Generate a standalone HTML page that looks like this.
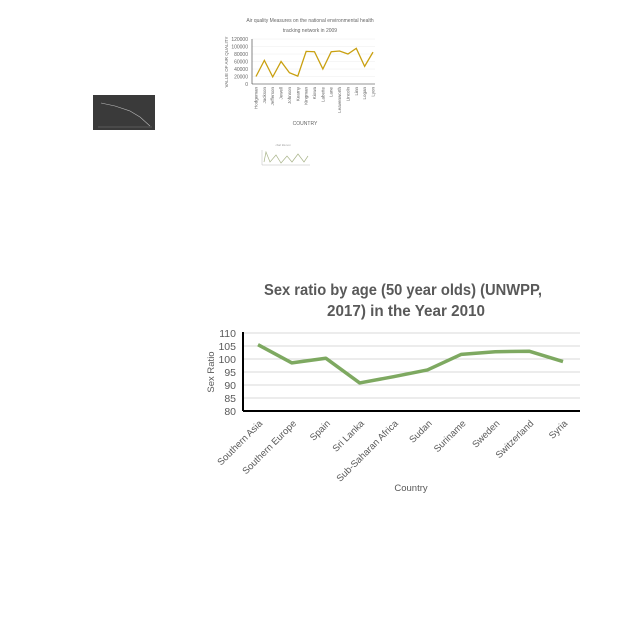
<!DOCTYPE html>
<html><head><meta charset="utf-8"><style>
body{margin:0;background:#fff;width:640px;height:640px;overflow:hidden;font-family:"Liberation Sans",sans-serif}
svg{position:absolute;left:0;top:0}
</style></head><body>
<svg width="640" height="640">
<g id="aq"></g>
<g>
<rect x="93" y="95" width="62" height="35" fill="#3a3a3a"/>
<polyline points="101,103 115,106 130,111 140,117 150,126" fill="none" stroke="#bbb" stroke-width="0.6"/>
<line x1="98" y1="127" x2="152" y2="127" stroke="#888" stroke-width="0.4"/>
</g>
<g>
<text x="283" y="146" font-size="2.5" fill="#999" text-anchor="middle">chart title text</text>
<line x1="262" y1="150" x2="262" y2="165" stroke="#aaa" stroke-width="0.4"/>
<line x1="262" y1="165" x2="310" y2="165" stroke="#aaa" stroke-width="0.4"/>
<polyline points="264,162 266,152 270,162 276,155 281,163 287,156 292,162 298,154 304,162 308,156" fill="none" stroke="#a9b48a" stroke-width="0.7"/>
</g>
<g id="main"></g>
</svg>
<script>
// Main chart data
const categories=["Southern Asia","Southern Europe","Spain","Sri Lanka","Sub-Saharan Africa","Sudan","Suriname","Sweden","Switzerland","Syria"];
const values=[105.5,98.5,100.3,90.8,93.2,95.8,101.8,102.8,103,99];
const yTicks=[80,85,90,95,100,105,110];
// Air quality data
const aqCategories=["Hodgeman","Jackson","Jefferson","Jewell","Johnson","Kearny","Kingman","Kiowa","Labette","Lane","Leavenworth","Lincoln","Linn","Logan","Lyon"];
const aqValues=[20000,63000,19000,60000,30000,21000,87000,86000,40000,86000,88000,80000,95000,47000,85000];
const aqTicks=[0,20000,40000,60000,80000,100000,120000];

const NS="http://www.w3.org/2000/svg";
function mk(p,t,a,txt){const e=document.createElementNS(NS,t);for(const k in a)e.setAttribute(k,a[k]);if(txt!=null)e.textContent=txt;p.appendChild(e);return e;}

// main
(function(){
const g=document.getElementById('main');
const x0=243,x1=580,yTop=333,yBot=411,px0=258,px1=563;
const y=v=>yBot-(v-80)/30*(yBot-yTop);
const x=i=>px0+i*(px1-px0)/(categories.length-1);
let t=mk(g,'text',{x:264,y:295,'font-size':16,'font-weight':'bold',fill:'#595959',textLength:278,lengthAdjust:'spacingAndGlyphs'},'Sex ratio by age (50 year olds) (UNWPP,');

t=mk(g,'text',{x:327,y:316,'font-size':16,'font-weight':'bold',fill:'#595959',textLength:158,lengthAdjust:'spacingAndGlyphs'},'2017) in the Year 2010');

yTicks.forEach(v=>{
 if(v>80){const l=mk(g,'line',{x1:x0,x2:x1,y1:y(v),y2:y(v),stroke:'#d9d9d9','stroke-width':1});}
 const tl=mk(g,'text',{x:236,y:y(v)+4,'font-size':10.5,fill:'#595959','text-anchor':'end'},v);
 
});
let a=mk(g,'line',{x1:x0,x2:x0,y1:y(110)-1,y2:yBot,stroke:'#000','stroke-width':2});
a=mk(g,'line',{x1:x0,x2:x1,y1:yBot,y2:yBot,stroke:'#000','stroke-width':2});
const ln=mk(g,'polyline',{points:values.map((v,i)=>x(i)+','+y(v)).join(' '),fill:'none',stroke:'#70a050','stroke-width':3.5,'stroke-linejoin':'round',opacity:0.9});

categories.forEach((c,i)=>{
 const tl=mk(g,'text',{x:0,y:0,'font-size':9.5,fill:'#595959','text-anchor':'end',transform:`translate(${x(i)+5},${yBot+13}) rotate(-45)`},c);
 
});
t=mk(g,'text',{x:0,y:0,'font-size':9.5,fill:'#595959','text-anchor':'middle',transform:'translate(214,372) rotate(-90)'},'Sex Ratio');

t=mk(g,'text',{x:411,y:491,'font-size':9.5,fill:'#595959','text-anchor':'middle'},'Country');

})();

// air quality
(function(){
const g=document.getElementById('aq');
const x0=252,x1=375,yTop=39,yBot=84,px0=256,px1=373;
const y=v=>yBot-v/120000*(yBot-yTop);
const x=i=>px0+i*(px1-px0)/(aqCategories.length-1);
let t=mk(g,'text',{x:310,y:22,'font-size':5,fill:'#666','text-anchor':'middle'},'Air quality Measures on the national environmental health');

t=mk(g,'text',{x:310,y:32,'font-size':5,fill:'#666','text-anchor':'middle'},'tracking network in 2009');

aqTicks.forEach(v=>{
 const l=mk(g,'line',{x1:x0,x2:x1,y1:y(v),y2:y(v),stroke:'#eee','stroke-width':0.5});
 const tl=mk(g,'text',{x:248,y:y(v)+1.8,'font-size':5,fill:'#666','text-anchor':'end'},v);
 
});
let a=mk(g,'line',{x1:x0,x2:x0,y1:yTop,y2:yBot,stroke:'#333','stroke-width':0.6});
a=mk(g,'line',{x1:x0,x2:x1,y1:yBot,y2:yBot,stroke:'#333','stroke-width':0.6});
const ln=mk(g,'polyline',{points:aqValues.map((v,i)=>x(i)+','+y(v)).join(' '),fill:'none',stroke:'#c9a010','stroke-width':1.3});

aqCategories.forEach((c,i)=>{
 const tl=mk(g,'text',{x:0,y:0,'font-size':4.5,fill:'#666','text-anchor':'end',transform:`translate(${x(i)+1.5},${yBot+3}) rotate(-90)`},c);
 
});
t=mk(g,'text',{x:0,y:0,'font-size':4.5,fill:'#666','text-anchor':'middle',transform:'translate(228,62) rotate(-90)'},'VALUE OF AIR QUALITY');

t=mk(g,'text',{x:305,y:125,'font-size':5,fill:'#666','text-anchor':'middle'},'COUNTRY');

})();
</script>
</body></html>
